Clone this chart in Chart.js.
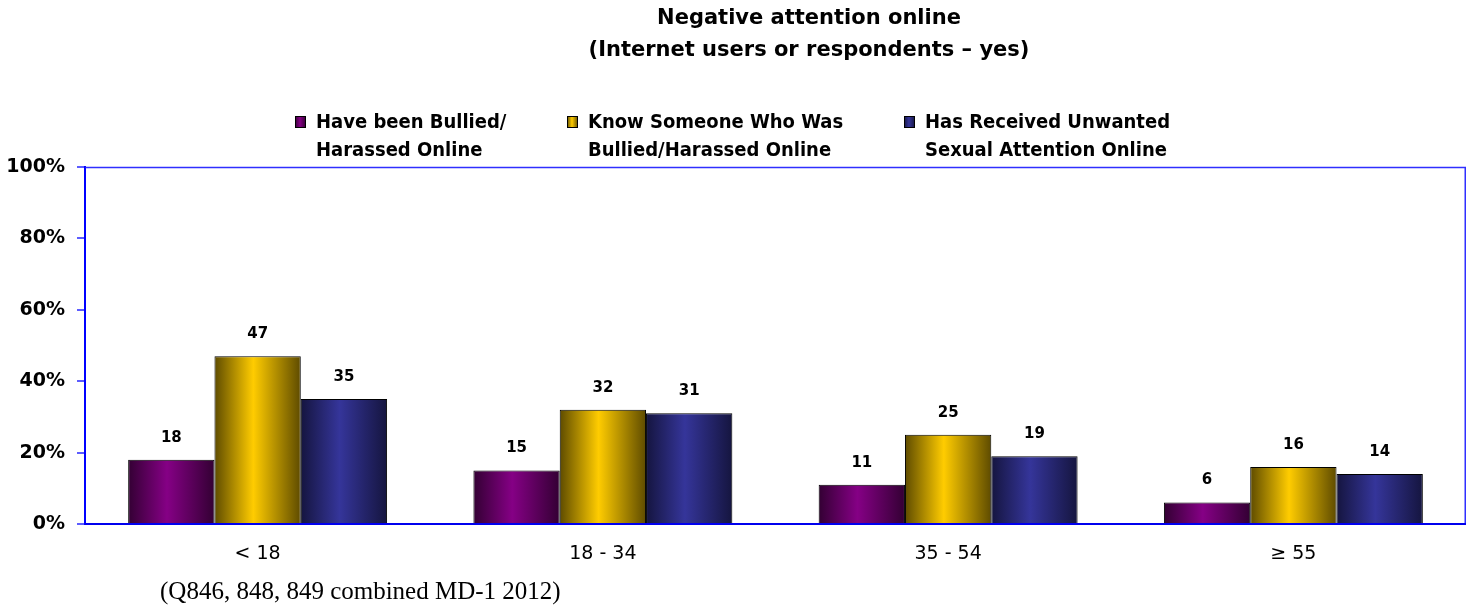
<!DOCTYPE html>
<html>
<head>
<meta charset="utf-8">
<script src="https://cdn.jsdelivr.net/npm/chart.js@4"></script>
<style>
  html, body { margin: 0; padding: 0; background: #fff; }
  #wrap { width: 1471px; height: 605px; position: relative; }
</style>
</head>
<body>
<div id="wrap"><canvas id="chart"></canvas></div>
<script>
// data
var categories = ['< 18', '18 - 34', '35 - 54', '\u2265 55'];
var bullied = [18, 15, 11, 6];
var knowSomeone = [47, 32, 25, 16];
var unwantedAttention = [35, 31, 19, 14];
var seriesNames = [
  ['Have been Bullied/', 'Harassed Online'],
  ['Know Someone Who Was', 'Bullied/Harassed Online'],
  ['Has Received Unwanted', 'Sexual Attention Online']
];
var yTicks = [0, 20, 40, 60, 80, 100];

var titleLines = ['Negative attention online', '(Internet users or respondents \u2013 yes)'];
var footnote = '(Q846, 848, 849 combined MD-1 2012)';

var shades = [
  { dark: '#330033', light: '#850085' },
  { dark: '#5e4b00', light: '#ffcc00' },
  { dark: '#15153f', light: '#35359a' }
];
var catPct = 0.75;

function barFill(i) {
  return function(c) {
    var chart = c.chart;
    var x = chart.scales.x;
    if (c.type !== 'data' || !x || !x.width) return shades[i].light;
    var catW = x.width / categories.length;
    var bw = catW * catPct / 3;
    var cx = x.getPixelForValue(c.dataIndex) + (c.datasetIndex - 1) * bw;
    var g = chart.ctx.createLinearGradient(cx - bw / 2, 0, cx + bw / 2, 0);
    g.addColorStop(0, shades[i].dark);
    g.addColorStop(0.45, shades[i].light);
    g.addColorStop(1, shades[i].dark);
    return g;
  };
}

var extras = {
  id: 'extras',
  beforeDatasetsDraw: function(chart) {
    var ctx = chart.ctx, a = chart.chartArea;
    ctx.save();
    ctx.strokeStyle = '#2f2fff';
    ctx.lineWidth = 1.5;
    ctx.beginPath();
    ctx.moveTo(a.left + 0.5, a.top + 0.5);
    ctx.lineTo(a.right - 0.75, a.top + 0.5);
    ctx.lineTo(a.right - 0.75, a.bottom);
    ctx.stroke();
    ctx.restore();
  },
  afterDatasetsDraw: function(chart) {
    var ctx = chart.ctx, a = chart.chartArea;
    ctx.save();
    // bottom axis line
    ctx.strokeStyle = '#0000ee';
    ctx.lineWidth = 2;
    ctx.beginPath();
    ctx.moveTo(a.left, a.bottom);
    ctx.lineTo(a.right, a.bottom);
    ctx.stroke();

    // value labels
    ctx.fillStyle = '#000';
    ctx.font = 'bold 15px "DejaVu Sans"';
    ctx.textAlign = 'center';
    ctx.textBaseline = 'middle';
    chart.data.datasets.forEach(function(ds, di) {
      chart.getDatasetMeta(di).data.forEach(function(el, i) {
        ctx.fillText(ds.data[i], el.x, el.y - 22);
      });
    });

    // title
    ctx.font = 'bold 21px "DejaVu Sans"';
    ctx.fillText(titleLines[0], 809, 19);
    ctx.fillText(titleLines[1], 809, 51);

    // legend
    var legX = [295, 567, 904];
    ctx.textAlign = 'left';
    ctx.font = 'bold 20px "Liberation Sans Narrow", "DejaVu Sans Condensed", sans-serif';
    seriesNames.forEach(function(lines, i) {
      var bx = legX[i], by = 116;
      var g = ctx.createLinearGradient(bx, 0, bx + 11, 0);
      g.addColorStop(0, shades[i].dark);
      g.addColorStop(0.45, shades[i].light);
      g.addColorStop(1, shades[i].dark);
      ctx.fillStyle = g;
      ctx.fillRect(bx, by, 11, 12);
      ctx.strokeStyle = '#000';
      ctx.lineWidth = 1;
      ctx.strokeRect(bx + 0.5, by + 0.5, 10, 11);
      ctx.fillStyle = '#000';
      ctx.fillText(lines[0], bx + 21, 123);
      ctx.fillText(lines[1], bx + 21, 151);
    });

    // footnote
    ctx.font = '25px "Liberation Serif", serif';
    ctx.fillText(footnote, 160, 592);
    ctx.restore();
  }
};

var ctx = document.getElementById('chart');
new Chart(ctx, {
  type: 'bar',
  data: {
    labels: categories,
    datasets: [
      { label: seriesNames[0].join(' '), data: bullied, backgroundColor: barFill(0) },
      { label: seriesNames[1].join(' '), data: knowSomeone, backgroundColor: barFill(1) },
      { label: seriesNames[2].join(' '), data: unwantedAttention, backgroundColor: barFill(2) }
    ]
  },
  options: {
    responsive: true,
    maintainAspectRatio: false,
    animation: false,
    layout: { padding: { top: 167, right: 5, left: 0, bottom: 0 } },
    datasets: {
      bar: {
        barPercentage: 1,
        categoryPercentage: catPct,
        borderColor: '#000',
        borderWidth: 1,
        borderSkipped: 'bottom'
      }
    },
    plugins: {
      legend: { display: false },
      title: { display: false },
      tooltip: { enabled: false }
    },
    scales: {
      x: {
        grid: { display: false, drawTicks: false },
        border: { display: false },
        ticks: {
          padding: 19,
          color: '#000',
          font: { family: 'DejaVu Sans', size: 19 }
        },
        afterFit: function(s) { s.height = 81; }
      },
      y: {
        min: 0,
        max: 100,
        afterBuildTicks: function(s) {
          s.ticks = yTicks.map(function(v) { return { value: v }; });
        },
        grid: {
          drawOnChartArea: false,
          drawTicks: true,
          tickLength: 8,
          lineWidth: 2,
          color: '#5c5cff'
        },
        border: { display: true, color: '#0000ff', width: 2 },
        ticks: {
          padding: 12,
          color: '#000',
          font: { family: 'DejaVu Sans', size: 19, weight: 'bold' },
          callback: function(v) { return v + '%'; }
        },
        afterFit: function(s) { s.width = 85; }
      }
    }
  },
  plugins: [extras]
});
</script>
</body>
</html>
